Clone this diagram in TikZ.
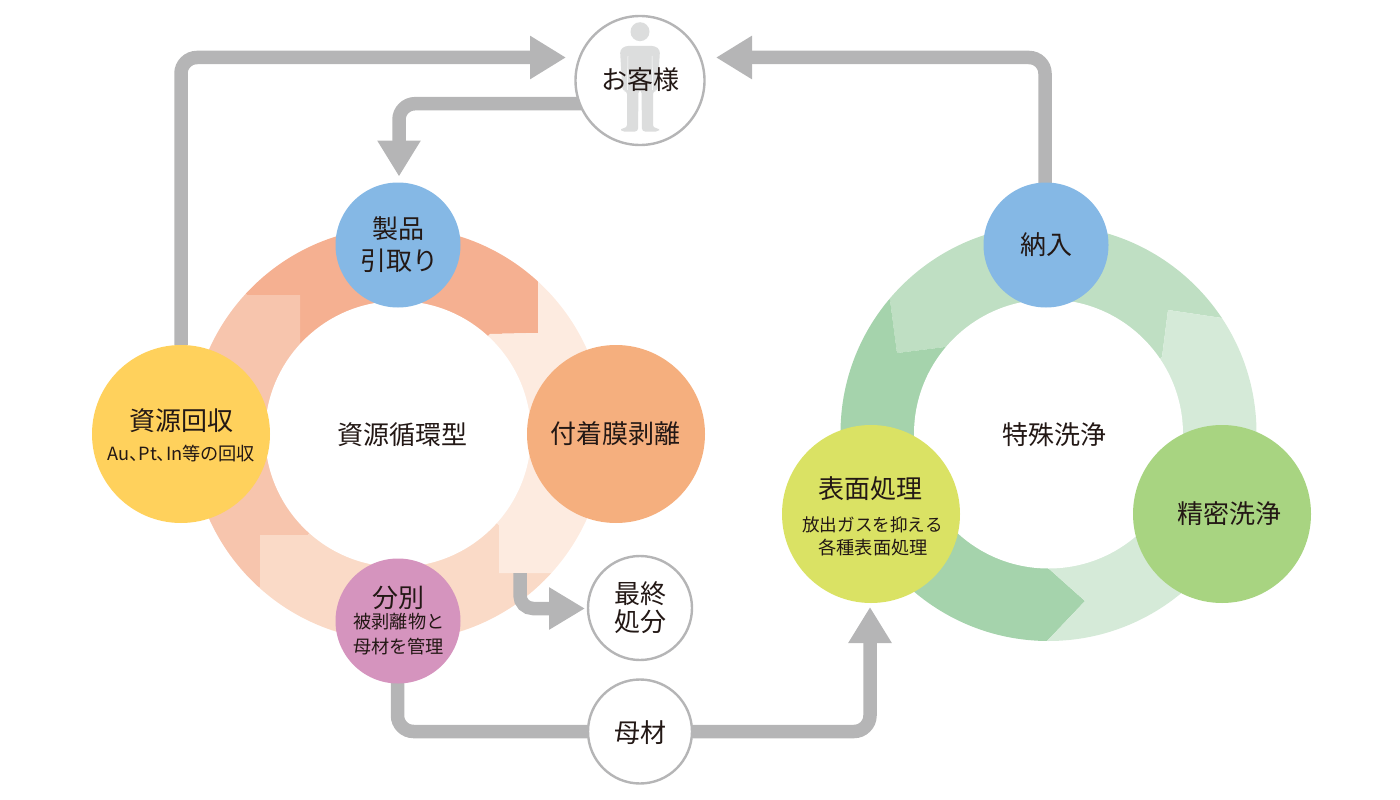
\documentclass[tikz,border=0pt]{standalone}
\usepackage{fontspec}
\setmainfont{Noto Sans CJK JP}
\newfontfamily\jpprop[RawFeature={+palt}]{Noto Sans CJK JP}
\usetikzlibrary{arrows.meta}
\pgfdeclarelayer{ringlayer}
\pgfdeclarelayer{pipelayer}
\pgfsetlayers{ringlayer,pipelayer,main}
\definecolor{ink}{HTML}{231815}
\definecolor{flow}{HTML}{B5B5B6}
\definecolor{figure}{HTML}{DCDDDD}
\definecolor{oA}{HTML}{F5B091}
\definecolor{oB}{HTML}{F7C5AD}
\definecolor{oC}{HTML}{FADAC7}
\definecolor{oD}{HTML}{FDEBE0}
\definecolor{gA}{HTML}{A5D3AC}
\definecolor{gB}{HTML}{BFDFC3}
\definecolor{gC}{HTML}{D5EAD8}
\definecolor{cBlue}{HTML}{85B8E5}
\definecolor{cOrange}{HTML}{F5AF7E}
\definecolor{cPink}{HTML}{D594BE}
\definecolor{cYellow}{HTML}{FFD15C}
\definecolor{cLime}{HTML}{DAE264}
\definecolor{cGreen}{HTML}{A8D481}
\tikzset{
  x=1pt,y=-1pt,
  big/.style={circle,minimum size=178pt,inner sep=0pt},
  mid/.style={circle,minimum size=125pt,inner sep=0pt},
  hollow/.style={circle,draw=flow,line width=2.4pt,fill=white,minimum size=104pt,inner sep=0pt},
  hub/.style={circle,fill=white,inner sep=0pt},
  head/.style={text=ink,inner sep=0pt,font=\fontsize{26pt}{30pt}\selectfont},
  sub/.style={text=ink,inner sep=0pt,font=\fontsize{18.2pt}{22pt}\selectfont},
  pipe/.style={draw=flow,line width=13.5pt,rounded corners=16pt},
  pipearrow/.style={pipe,-{Triangle[length=36pt,width=41pt]}},
}
\begin{document}
\begin{tikzpicture}
\useasboundingbox (0,0) rectangle (1400,800);
\begin{pgfonlayer}{ringlayer}
% left ring
\begin{scope}
\clip (398,434) circle (207);
\fill[oA] (300,343) -- (300,295) -- (247,295) -- (150,200) -- (398,50) -- (650,200) -- (538,280) -- (538,333) -- (490,334) -- (398,434) -- cycle;
\fill[oB] (300,343) -- (300,295) -- (247,295) -- (150,200) -- (0,434) -- (150,670) -- (260,587) -- (260,535) -- (308,535) -- (398,434) -- cycle;
\fill[oC] (260,587) -- (260,535) -- (308,535) -- (398,434) -- (499,525) -- (499,573) -- (553,573) -- (650,670) -- (398,800) -- (150,670) -- cycle;
\fill[oD] (499,525) -- (499,573) -- (553,573) -- (650,670) -- (800,434) -- (650,200) -- (538,280) -- (538,333) -- (490,334) -- (398,434) -- cycle;
\end{scope}
% right ring
\begin{scope}
\clip (1048.5,433) circle (208);
\fill[gB] (945,347) -- (897,353) -- (890,300) -- (800,200) -- (1046,40) -- (1300,200) -- (1222,318) -- (1168,310) -- (1162,357) -- (1048,434) -- cycle;
\fill[gA] (945,347) -- (897,353) -- (890,300) -- (800,200) -- (700,434) -- (800,700) -- (1047,660) -- (1047,641) -- (1085,601) -- (1048,568) -- (1048,434) -- cycle;
\fill[gC] (1162,357) -- (1168,310) -- (1222,318) -- (1300,200) -- (1400,434) -- (1300,700) -- (1047,660) -- (1047,641) -- (1085,601) -- (1048,568) -- (1048,434) -- cycle;
\end{scope}
\node[hub,minimum size=266pt] (hubL) at (398,434) {};
\node[hub,minimum size=269pt] (hubR) at (1048.5,434) {};
\end{pgfonlayer}
% circles
\node[big,fill=cYellow] (rec) at (181,434) {};
\node[big,fill=cOrange] (strip) at (616,434) {};
\node[mid,fill=cBlue] (pick) at (398,245) {};
\node[mid,fill=cPink] (sort) at (398,621) {};
\node[mid,fill=cBlue] (deliver) at (1046,245) {};
\node[big,fill=cLime] (surface) at (871,514) {};
\node[big,fill=cGreen] (clean) at (1222,514) {};
\node[hollow,minimum size=129pt] (cust) at (640,80.5) {};
\node[hollow] (final) at (640,608) {};
\node[hollow] (base) at (640,731.5) {};
% free ends
\coordinate (t1) at (566,57.5);
\coordinate (s2) at (600,103.7);
\coordinate (t2) at (399,176.5);
\coordinate (s3) at (1045,200);
\coordinate (t3) at (716,57.5);
\coordinate (s4) at (397.5,660);
\coordinate (t4) at (870,607);
\coordinate (s5) at (520,573);
\coordinate (t5) at (585,608.5);
% connectors
\begin{pgfonlayer}{pipelayer}
\draw[pipearrow] (rec.north) |- (t1);
\draw[pipearrow] (s2) -| (t2);
\draw[pipearrow] (s3) |- (t3);
\draw[pipe] (s4) |- (base.west);
\draw[pipearrow] (base.east) -| (t4);
\draw[pipearrow,rounded corners=13pt,-{Triangle[length=36pt,width=40pt]}] (s5) |- (t5);
\end{pgfonlayer}
% person
\fill[figure] (640,31.7) circle (9.5);
\fill[figure,rounded corners=3pt] (621,131.5) -- (621,128) -- (627,128) -- (627,91) -- (622.5,91) -- (620,50) -- (625,46) -- (655,46) -- (660,50) -- (657.5,91) -- (653,91) -- (653,128) -- (659,128) -- (659,131.5) -- (642,131.5) -- (641.5,90) -- (638.5,90) -- (638,131.5) -- cycle;
\draw[white,line width=.5pt] (628,56) -- (627.3,90) (652,56) -- (652.7,90);
% labels
\node[head] (hubLT) at (402,435) {資源循環型};
\node[head] (hubRT) at (1054.5,435) {特殊洗浄};
\node[head] (stripT) at (615.5,434) {付着膜剥離};
\node[head] (deliverT) at (1046,245) {納入};
\node[head] (baseT) at (640,733) {母材};
\node[head] (custT) at (640,80) {お客様};
\node[head] (pickA) at (398,228.5) {製品};
\node[head] (pickB) at (399,260.5) {引取り};
\node[head] (recA) at (181,420.5) {資源回収};
\node[sub,font=\jpprop\fontsize{18.2pt}{22pt}\selectfont] (recB) at (181,454) {Au、Pt、In等の回収};
\node[head] (sortA) at (398,597.5) {分別};
\node[sub] (sortB) at (399,622) {被剥離物と};
\node[sub] (sortC) at (398.5,647) {母材を管理};
\node[head] (finalA) at (640,593.5) {最終};
\node[head] (finalB) at (640,621.5) {処分};
\node[head] (surfA) at (870.5,488.5) {表面処理};
\node[sub,font=\fontsize{17.6pt}{22pt}\selectfont] (surfB) at (872.5,525) {放出ガスを抑える};
\node[sub] (surfC) at (873,548) {各種表面処理};
\node[head] (cleanT) at (1229.5,513.5) {精密洗浄};
\end{tikzpicture}
\end{document}
